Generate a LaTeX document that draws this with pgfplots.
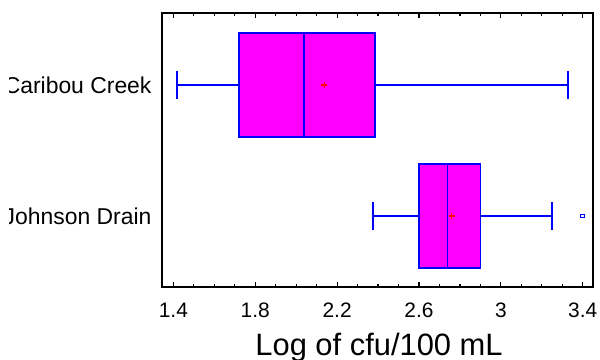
\documentclass[border=0pt]{standalone}
\usepackage{pgfplots}
\pgfplotsset{compat=1.18}
\usepgfplotslibrary{statistics}
\usepackage{fontspec}
\setmainfont{Liberation Sans}
\definecolor{mag}{RGB}{255,0,255}
\definecolor{bl}{RGB}{0,0,255}
\definecolor{rd}{RGB}{255,0,0}
\begin{document}
\begin{tikzpicture}
\useasboundingbox (-161.7bp,-73bp) rectangle (438.3bp,287bp);
\begin{scope}
\clip (-152.2bp,-73bp) rectangle (438.3bp,287bp);
\begin{axis}[
  at={(0,0)}, anchor=south west,
  scale only axis, width=431.3bp, height=274bp,
  xmin=1.343, xmax=3.45, ymin=0.458, ymax=2.55,
  axis line style={line width=1.8bp, black},
  xtick={1.4,1.8,2.2,2.6,3.0,3.4},
  xticklabels={1.4,1.8,2.2,2.6,3,3.4},
  minor xtick={1.5,1.6,1.7,1.9,2.0,2.1,2.3,2.4,2.5,2.7,2.8,2.9,3.1,3.2,3.3},
  tick align=inside,
  major tick length=5bp, minor tick length=3.5bp,
  xtick style={line width=1.2bp, black},
  minor tick style={line width=1.2bp, black},
  xticklabel style={font=\fontsize{21}{25}\selectfont, anchor=base, yshift=-30bp},
  ytick={1,2},
  yticklabels={Johnson Drain, Caribou Creek},
  ytick style={draw=none},
  yticklabel style={font=\fontsize{23}{27}\selectfont, inner sep=0pt, anchor=east, xshift=-10bp},
  xlabel={Log of cfu/100 mL},
  xlabel style={font=\fontsize{31}{36}\selectfont, at={(axis description cs:0.5,0)}, anchor=base, yshift=-68.7bp, xshift=1.7bp},
]
\addplot[boxplot prepared={draw direction=x, draw position=2,
  lower whisker=1.417, lower quartile=1.72, median=2.039,
  upper quartile=2.386, upper whisker=3.329,
  box extend=0.79, whisker extend=0.21},
  draw=bl, fill=mag, line width=1.6bp] coordinates {};
\addplot[boxplot prepared={draw direction=x, draw position=1,
  lower whisker=2.375, lower quartile=2.6, median=2.74,
  upper quartile=2.9, upper whisker=3.249,
  box extend=0.795, whisker extend=0.21},
  draw=bl, fill=mag, line width=1.6bp] coordinates {};
\addplot[only marks, mark=+, rd, mark size=3bp, line width=1.3bp] coordinates {(2.137,2) (2.76,1)};
\addplot[only marks, mark=square, bl, mark size=1.8bp, line width=1.1bp] coordinates {(3.398,1)};
\end{axis}
\end{scope}
\end{tikzpicture}
\end{document}
